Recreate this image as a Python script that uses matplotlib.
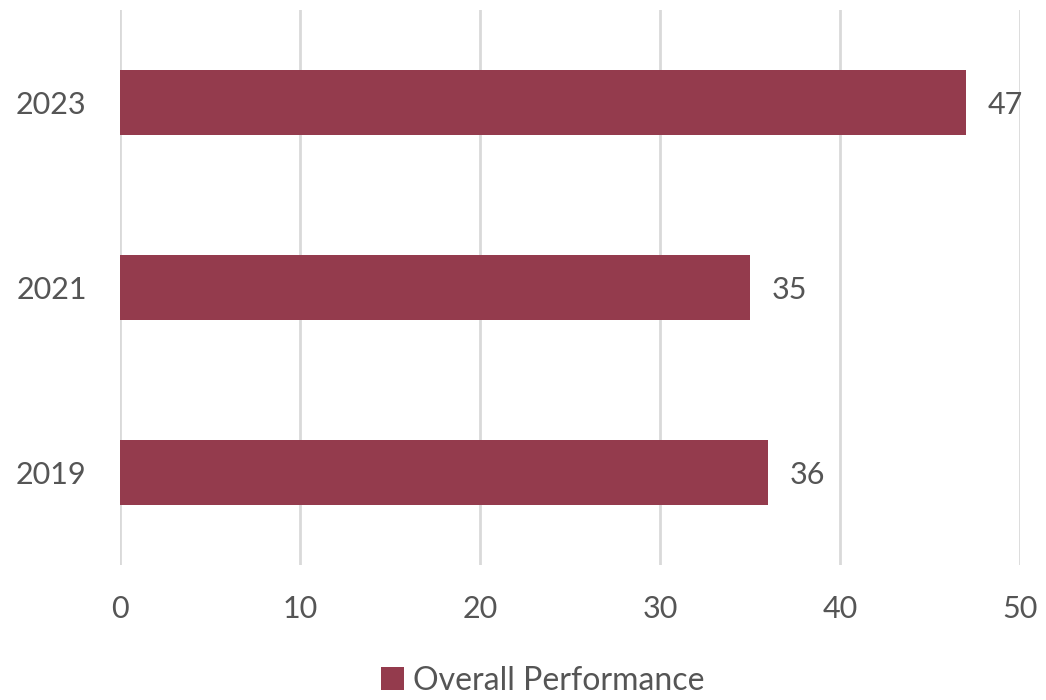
import matplotlib.pyplot as plt
import numpy as np

years = ['2019', '2021', '2023']
performance = [36, 35, 47]

bar_color = '#943B4D'
text_color = '#555555'

plt.rcParams['font.family'] = ['Lato', 'DejaVu Sans']

fig = plt.figure(figsize=(10.46, 7), dpi=100)
ax = fig.add_axes([0.1147, 0.193, 0.8605, 0.793])

y = np.arange(len(years))
bars = ax.barh(y, performance, height=0.35, color=bar_color, label='Overall Performance', zorder=3)

# value labels to the right of each bar
for b, v in zip(bars, performance):
    ax.annotate(str(v), (b.get_width(), b.get_y() + b.get_height() / 2),
                xytext=(22, -3), textcoords='offset pixels',
                va='center', ha='left', fontsize=22, color=text_color)

ax.set_xlim(0, 50)
ax.set_ylim(-0.5, 2.5)
ax.set_xticks(np.arange(0, 51, 10))
ax.set_yticks(y)
ax.set_yticklabels(years)
ax.xaxis.grid(True, color='#D9D9D9', linewidth=2, zorder=0)
for s in ax.spines.values():
    s.set_visible(False)
ax.tick_params(axis='both', length=0, labelsize=22, labelcolor=text_color)
ax.tick_params(axis='x', pad=22)
ax.tick_params(axis='y', pad=24)

fig.legend(loc='lower center', bbox_to_anchor=(0.519, -0.035), frameon=False, fontsize=23,
           labelcolor=text_color, handlelength=0.7, handleheight=0.7, handletextpad=0.3)

fig.savefig('out.png', dpi=100)
